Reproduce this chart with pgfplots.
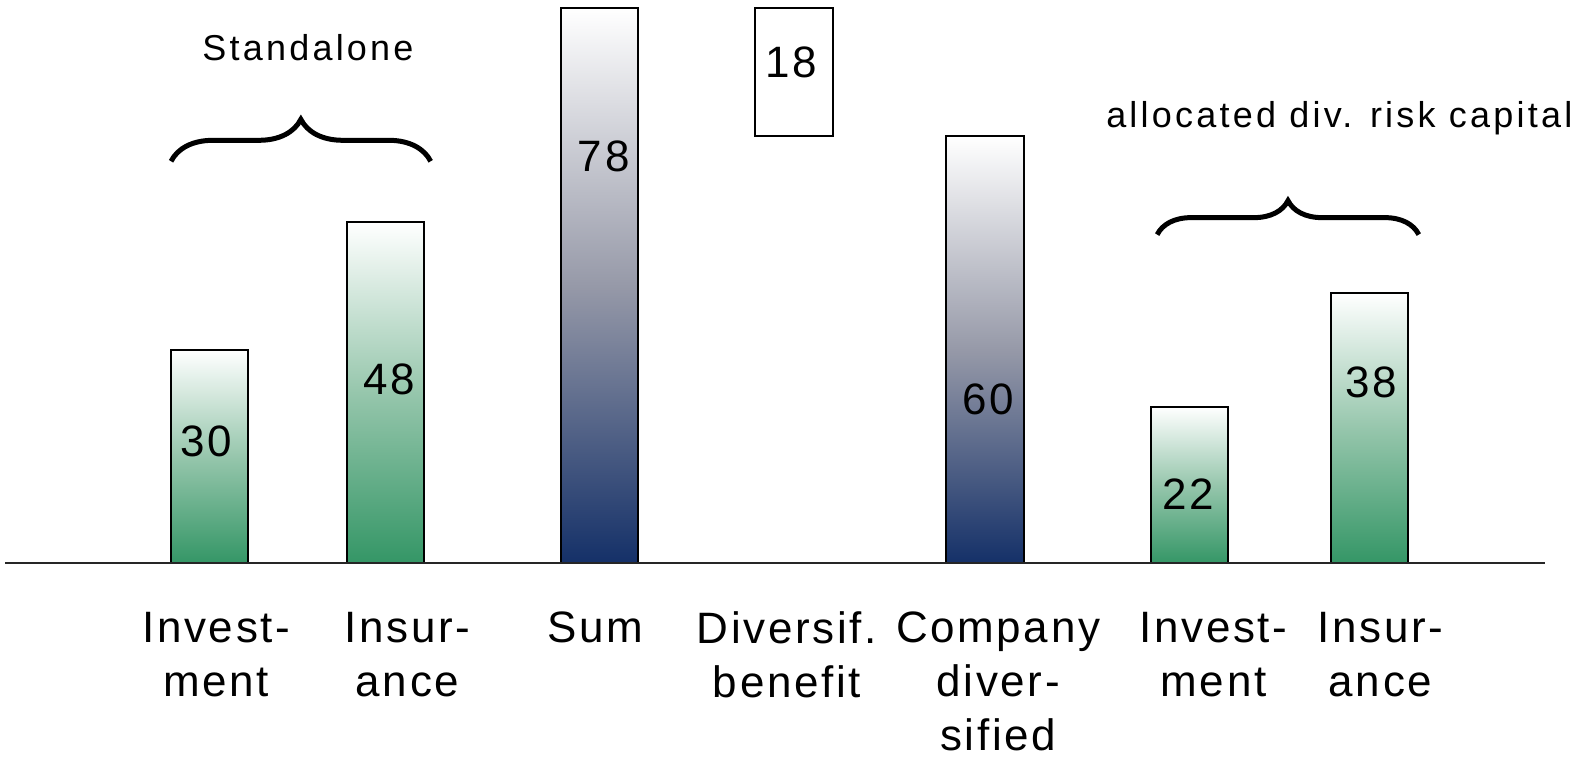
\documentclass[border=0pt]{standalone}
\usepackage{pgfplots}
\pgfplotsset{compat=1.18}
\usepackage{fontspec}
\setmainfont{Liberation Sans}
\newfontfamily\lblfont[LetterSpace=6]{Liberation Sans}
\newfontfamily\grpfont[LetterSpace=9]{Liberation Sans}
\usetikzlibrary{decorations.pathreplacing}
\definecolor{bargreen}{RGB}{52,150,102}
\definecolor{greenmid}{RGB}{150,198,172}
\definecolor{barnavy}{RGB}{20,48,104}
\definecolor{navymid}{RGB}{150,153,168}
\newcommand{\lblsize}{\lblfont\fontsize{22}{27}\selectfont}
\newcommand{\grpsize}{\grpfont\fontsize{18}{21}\selectfont}
\begin{document}
\begin{tikzpicture}
\begin{axis}[
  scale only axis, width=789.5pt, height=379.5pt,
  xmin=0, xmax=15.68, ymin=-27.41, ymax=79.13,
  axis line style={draw=none},
  major tick length=0pt,
  ytick=\empty,
  xtick={2.15,4.05,5.92,7.82,9.92,12.06,13.72},
  xticklabels={{Invest-\\ment},{Insur-\\ance},{Sum},{Diversif.\\benefit},{Company\\diver-\\sified},{Invest-\\ment},{Insur-\\ance}},
  xticklabel style={align=center, anchor=north, inner sep=0pt, yshift=73.5pt, font=\lblsize},
  clip=false,
  bar width=0.77,
]
% standalone
\addplot[ybar, bar shift=0pt, draw=black, line width=1pt, top color=white, bottom color=bargreen, middle color=greenmid] coordinates {(2.08,30)};
\addplot[ybar, bar shift=0pt, draw=black, line width=1pt, top color=white, bottom color=bargreen, middle color=greenmid] coordinates {(3.83,48)};
% sum
\addplot[ybar, bar shift=0pt, draw=black, line width=1pt, top color=white, bottom color=barnavy, middle color=navymid] coordinates {(5.96,78)};
% diversification benefit (floating 60 -> 78)
\addplot[draw=black, line width=1pt, fill=white] coordinates {(7.505,60) (8.275,60) (8.275,78) (7.505,78)} -- cycle;
% company diversified
\addplot[ybar, bar shift=0pt, draw=black, line width=1pt, top color=white, bottom color=barnavy, middle color=navymid] coordinates {(9.79,60)};
% allocated
\addplot[ybar, bar shift=0pt, draw=black, line width=1pt, top color=white, bottom color=bargreen, middle color=greenmid] coordinates {(11.82,22)};
\addplot[ybar, bar shift=0pt, draw=black, line width=1pt, top color=white, bottom color=bargreen, middle color=greenmid] coordinates {(13.61,38)};

\draw[line width=1pt, black!85] (axis cs:0.05,0) -- (axis cs:15.35,0);

\node[font=\lblsize] at (axis cs:2.05,17.2) {30};
\node[font=\lblsize] at (axis cs:3.87,25.9) {48};
\node[font=\lblsize] at (axis cs:6.00,57.2) {78};
\node[font=\lblsize] at (axis cs:7.86,70.4) {18};
\node[font=\lblsize] at (axis cs:9.82,23.0) {60};
\node[font=\lblsize] at (axis cs:11.81,9.8) {22};
\node[font=\lblsize] at (axis cs:13.63,25.4) {38};

\draw[line width=2.5pt, decorate, decoration={brace, amplitude=21pt}] (axis cs:1.70,56.5) -- (axis cs:4.28,56.5);
\draw[line width=2.5pt, decorate, decoration={brace, amplitude=17pt}] (axis cs:11.50,46.2) -- (axis cs:14.10,46.2);

\node[font=\grpsize] at (axis cs:3.06,72.5) {Standalone};
\node[font=\grpsize] at (axis cs:13.31,62.5) {allocated div. risk capital};
\end{axis}
\end{tikzpicture}
\end{document}
